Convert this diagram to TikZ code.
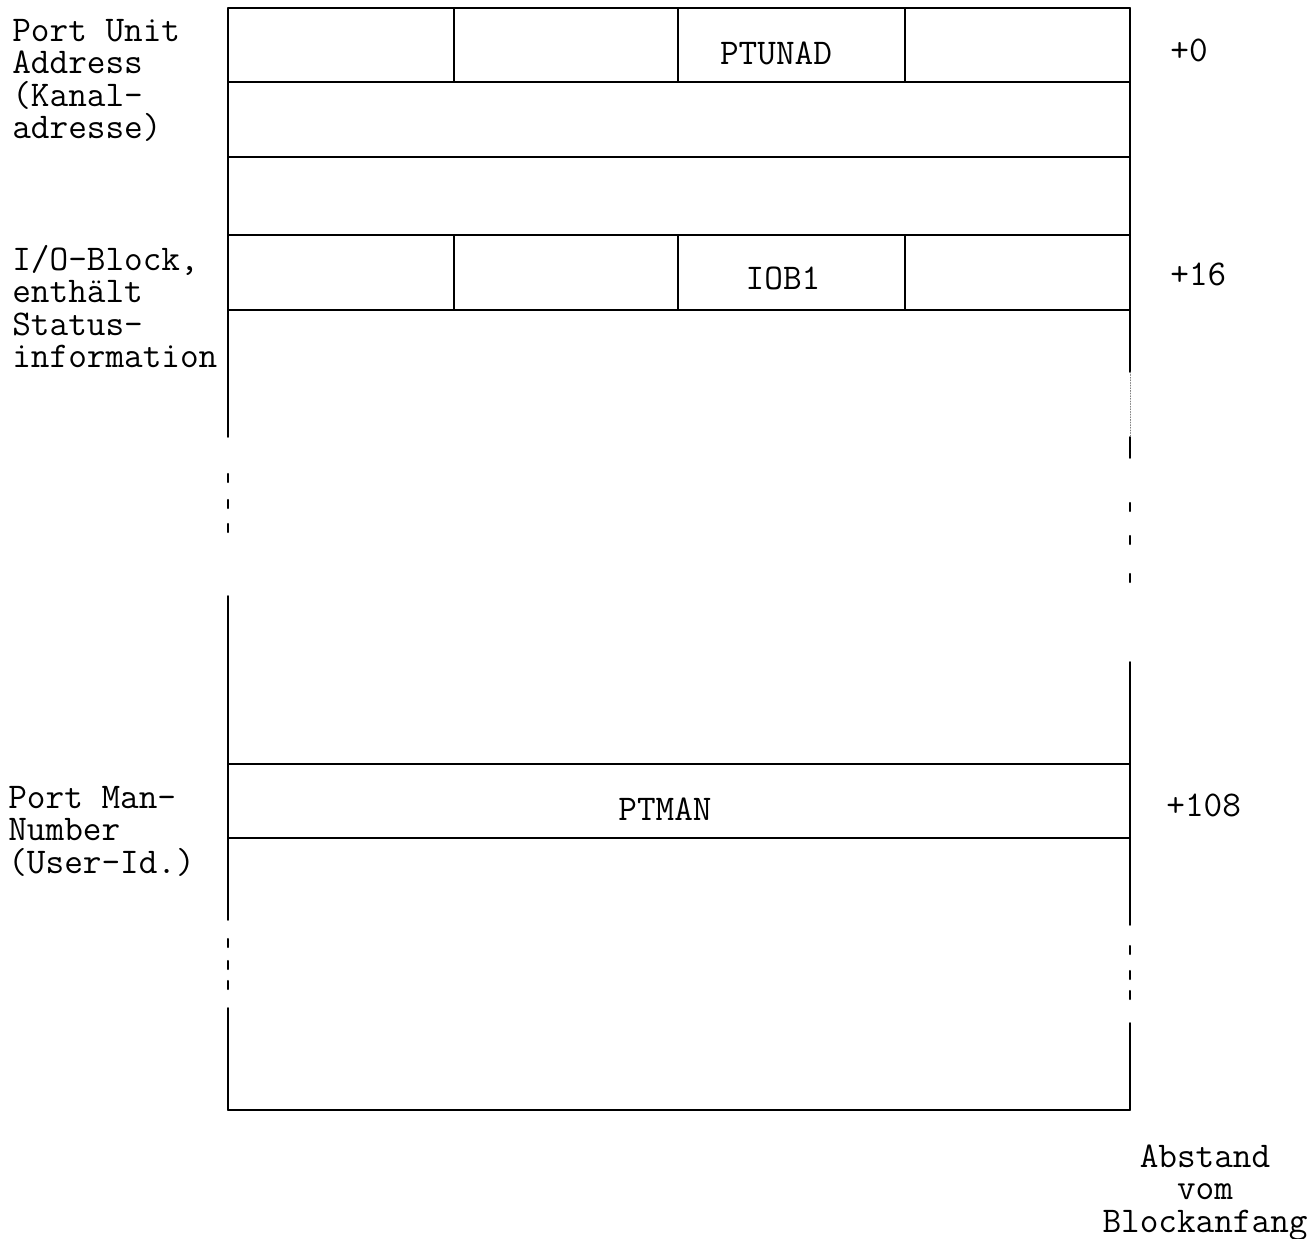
\documentclass[tikz,border=0pt]{standalone}
\usepackage{fontspec}
\lineskiplimit=-100pt
\begin{document}
\begin{tikzpicture}[x=0.02cm, y=-0.02cm, line join=round, line cap=round,
	font=\ttfamily\fontsize{20.6}{18.5}\selectfont,
	lbl/.style={anchor=base west, align=left, inner sep=0pt},
	fld/.style={anchor=base, inner sep=0pt}]
	\useasboundingbox (0,0) rectangle (1310,1239);
	\def\lftx{228}
	\def\rgtx{1130}
	\def\topy{8}
	\def\boty{1110}
	\coordinate (TL) at (\lftx,\topy);
	\coordinate (TR) at (\rgtx,\topy);
	\coordinate (BL) at (\lftx,\boty);
	\coordinate (BR) at (\rgtx,\boty);
	% frame
	\draw[line width=0.9pt] (TL) -- (TR);
	\draw[line width=0.9pt] (BL) -- (BR);
	\foreach \y in {82,157,235,310,764,838}
	\draw[line width=0.9pt] (\lftx,\y) -- (\rgtx,\y);
	\foreach \x in {454,678,905} {
		\draw[line width=0.9pt] (\x,8) -- (\x,82);
		\draw[line width=0.9pt] (\x,235) -- (\x,310);
	}
	% sides, broken
	\foreach \a/\b in {8/437, 596/920, 1008/1110}
	\draw[line width=0.9pt] (\lftx,\a) -- (\lftx,\b);
	\foreach \a/\b in {8/372, 437/458, 662/925, 1023/1110}
	\draw[line width=0.9pt] (\rgtx,\a) -- (\rgtx,\b);
	\draw[gray, densely dotted, line width=0.5pt] (\rgtx,372) -- (\rgtx,437);
	\foreach \y in {478,504,528,943,965,985}
	\draw[line width=1.2pt] (\lftx,\y-4) -- (\lftx,\y+4);
	\foreach \y in {507,540,578,950,975,995}
	\draw[line width=1.2pt] (\rgtx,\y-4) -- (\rgtx,\y+4);
	% fields
	\node[fld] (ptunad) at (776,65) {PTUNAD};
	\node[fld] (iob) at (783,290) {IOB1};
	\node[fld] (ptman) at (665,820) {PTMAN};
	% left labels (base = last line)
	\node[lbl] (lport) at (12,139) {Port Unit\\Address\\(Kanal-\\adresse)};
	\node[lbl] (lio) at (12,368) {I/O-Block,\\enthält\\Status-\\information};
	\node[lbl] (lman) at (8,873) {Port Man-\\Number\\(User-Id.)};
	% offsets
	\node[lbl] (o0) at (1170,62) {+0};
	\node[lbl] (o16) at (1170,286) {+16};
	\node[lbl] (o108) at (1166,816) {+108};
	\node[anchor=base, align=center, inner sep=0pt] (abst) at (1205,1232) {Abstand\\vom\\Blockanfang};
\end{tikzpicture}
\end{document}
